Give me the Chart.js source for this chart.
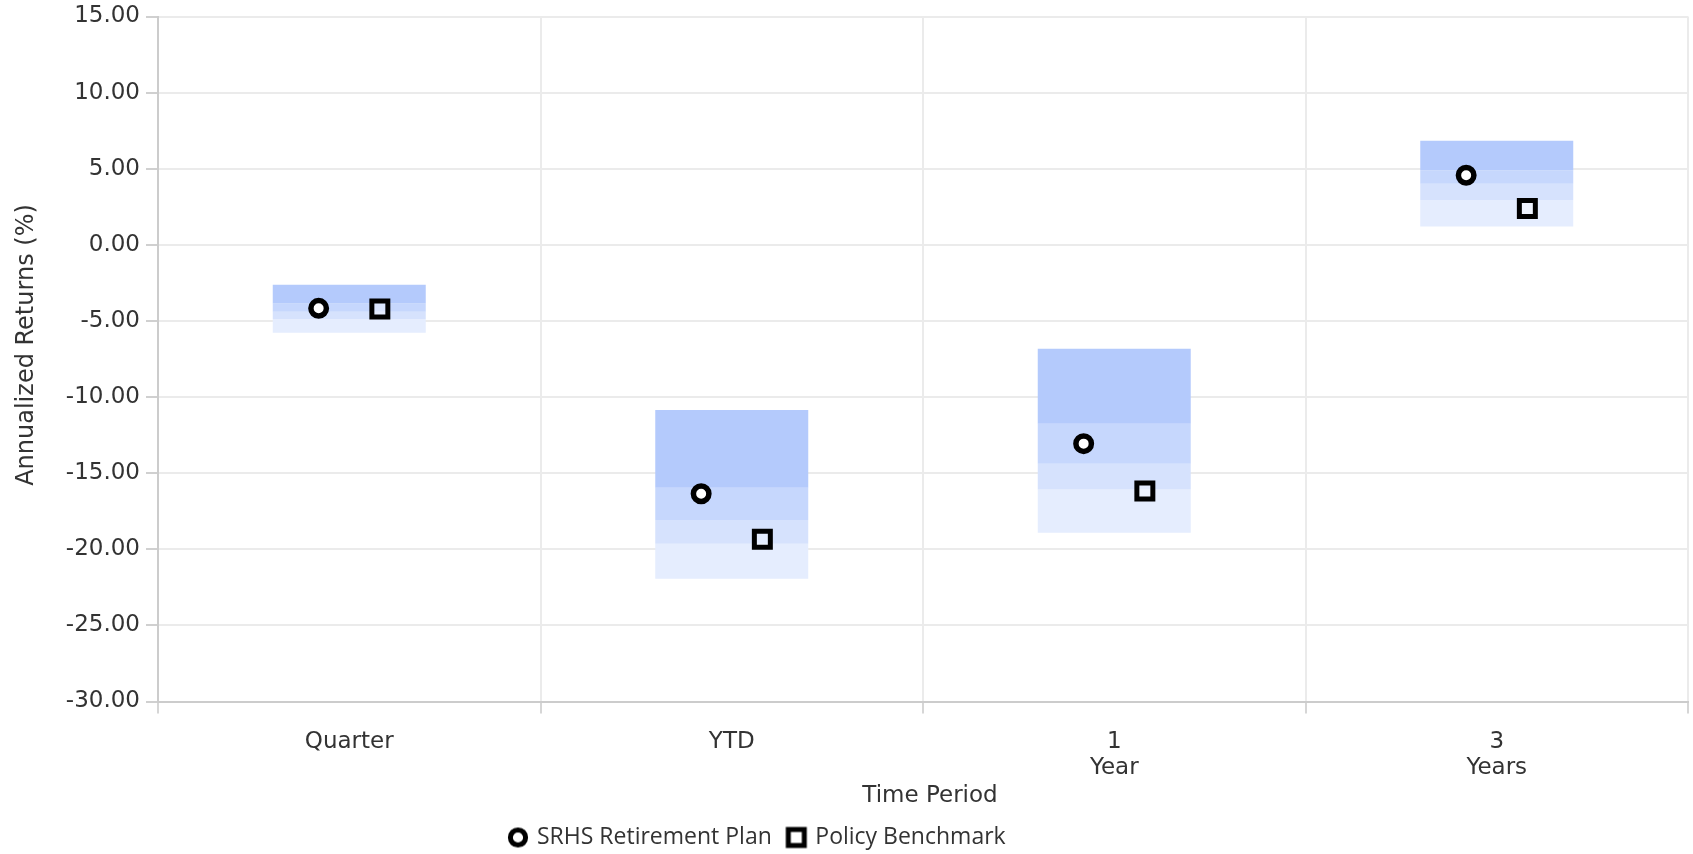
<!DOCTYPE html>
<html>
<head>
<meta charset="utf-8">
<title>Annualized Returns by Time Period</title>
<script src="https://cdn.jsdelivr.net/npm/chart.js@4.4.1/dist/chart.umd.min.js"></script>
<style>
  html, body { margin: 0; padding: 0; background: #ffffff; }
  #wrap { width: 1693px; height: 854px; }
</style>
</head>
<body>
<div id="wrap"><canvas id="chart" width="1693" height="854"></canvas></div>
<script>
// Time periods on the x axis
const periods = ['Quarter', 'YTD', ['1', 'Year'], ['3', 'Years']];
// Y axis tick values (%)
const yTickValues = [-30, -25, -20, -15, -10, -5, 0, 5, 10, 15];

// Universe percentile breakpoints (%) per period
const pct5  = [-5.77, -21.93, -18.91, 1.20];
const pct25 = [-4.89, -19.63, -16.08, 2.95];
const pct50 = [-4.39, -18.07, -14.38, 4.02];
const pct75 = [-3.86, -15.95, -11.75, 4.90];
const pct95 = [-2.63, -10.85, -6.82, 6.83];

// Plan and benchmark returns (%)
const planReturns = [-4.17, -16.35, -13.06, 4.57];
const benchmarkReturns = [-4.22, -19.34, -16.17, 2.38];

const TEXT = '#333333';
const PLOT_BOTTOM = 701.5;   // y pixel of the x axis line
const PLOT_TOP = 16.5;       // y pixel of the top gridline

// floating bar segments between two percentile rows
const band = (lo, hi) => lo.map((v, i) => [v, hi[i]]);
// place a marker slightly left/right of the category centre
const shifted = (vals, dx) => vals.map((v, i) => ({ x: i + dx, y: v }));

function bandDataset(label, lo, hi, color) {
  return {
    type: 'bar', label, data: band(lo, hi), backgroundColor: color,
    borderWidth: 0, grouped: false, barPercentage: 0.4, categoryPercentage: 1.0,
    order: 2
  };
}

// small legend icons
function legendIcon(kind) {
  const c = document.createElement('canvas');
  c.width = 26; c.height = 26;
  const g = c.getContext('2d');
  g.strokeStyle = '#000'; g.fillStyle = '#fff';
  g.lineWidth = 5;
  if (kind === 'circle') {
    g.beginPath(); g.arc(13, 13, 7.6, 0, Math.PI * 2); g.fill(); g.stroke();
  } else {
    g.fillRect(5, 5, 16, 16); g.strokeRect(5, 5, 16, 16);
  }
  return c;
}
const iconCircle = legendIcon('circle');
const iconSquare = legendIcon('square');

// offsets an axis title by (dx, dy) pixels
function nudgeTitle(scale, dx, dy) {
  if (!scale || scale._titleNudged) return;
  const drawTitle = scale.drawTitle;
  scale.drawTitle = function () {
    this.ctx.save();
    this.ctx.translate(dx, dy);
    drawTitle.call(this);
    this.ctx.restore();
  };
  scale._titleNudged = true;
}

// pins the legend block and places the axis titles
const layoutTweaks = {
  id: 'layoutTweaks',
  afterLayout(chart) {
    const lg = chart.legend;
    if (lg) {
      const w = lg.right - lg.left, h = lg.bottom - lg.top;
      lg.left = 493.5;
      lg.right = lg.left + w;
      lg.top = 809;
      lg.bottom = lg.top + h;
    }
    nudgeTitle(chart.scales.y, 0, -14);
    nudgeTitle(chart.scales.x, 7, 0);
  }
};

new Chart(document.getElementById('chart'), {
  type: 'bar',
  data: {
    labels: periods,
    datasets: [
      {
        type: 'scatter', label: 'SRHS Retirement Plan', xAxisID: 'x2',
        data: shifted(planReturns, -0.08),
        pointStyle: 'circle', pointRadius: 7.75, pointHoverRadius: 7.75,
        pointBorderWidth: 5.5, pointBorderColor: '#000000', pointBackgroundColor: '#ffffff',
        borderColor: '#000000', backgroundColor: '#ffffff', showLine: false, order: 0
      },
      {
        type: 'scatter', label: 'Policy Benchmark', xAxisID: 'x2',
        data: shifted(benchmarkReturns, 0.08),
        pointStyle: 'rect', pointRadius: 11.3, pointHoverRadius: 11.3,
        pointBorderWidth: 5, pointBorderColor: '#000000', pointBackgroundColor: 'rgba(255,255,255,0.35)',
        borderColor: '#000000', backgroundColor: 'rgba(255,255,255,0.35)', showLine: false, order: 0
      },
      bandDataset('75th-95th', pct75, pct95, 'rgb(180,202,252)'),
      bandDataset('50th-75th', pct50, pct75, 'rgb(198,215,253)'),
      bandDataset('25th-50th', pct25, pct50, 'rgb(214,226,253)'),
      bandDataset('5th-25th', pct5, pct25, 'rgb(229,237,254)')
    ]
  },
  options: {
    responsive: false,
    animation: false,
    layout: { autoPadding: false, padding: { left: 0, right: 5, top: 0, bottom: 0 } },
    scales: {
      x: {
        type: 'category',
        offset: true,
        afterFit: s => {
          s.paddingLeft = 0; s.paddingRight = 0;
          const legendH = s.chart.legend ? s.chart.legend.height : 0;
          s.height = s.chart.height - legendH - PLOT_BOTTOM;
        },
        grid: { display: true, offset: true, color: '#ebebeb', lineWidth: 2, tickLength: 12, tickColor: '#d6d6d6', tickWidth: 2 },
        border: { display: true, color: '#cccccc', width: 2 },
        ticks: { color: TEXT, font: { family: 'DejaVu Sans', size: 23, lineHeight: 1.15 }, padding: 15, maxRotation: 0, autoSkip: false },
        title: { display: true, text: 'Time Period', color: TEXT, font: { family: 'DejaVu Sans', size: 23 }, padding: { top: 0, bottom: -5.5 } }
      },
      x2: { type: 'linear', min: -0.5, max: 3.5, offset: false, display: false },
      y: {
        min: -30, max: 15,
        afterBuildTicks: s => { s.ticks = yTickValues.map(v => ({ value: v })); },
        afterFit: s => { s.width = 158; s.paddingTop = PLOT_TOP; s.paddingBottom = 0; },
        grid: { color: '#ebebeb', lineWidth: 2, tickLength: 12, tickColor: '#d0d0d0', tickWidth: 2 },
        border: { display: true, color: '#cccccc', width: 2 },
        ticks: { color: TEXT, font: { family: 'DejaVu Sans', size: 23 }, padding: 6, callback: v => Number(v).toFixed(2) },
        title: { display: true, text: 'Annualized Returns (%)', color: TEXT, font: { family: 'DejaVu Sans', size: 24 }, padding: { top: 12, bottom: 4 } }
      }
    },
    plugins: {
      legend: {
        position: 'bottom',
        align: 'start',
        labels: {
          color: TEXT,
          font: { family: 'Open Sans', size: 23 },
          usePointStyle: true,
          boxWidth: 15, boxHeight: 20,
          padding: 17,
          generateLabels: chart => chart.data.datasets.slice(0, 2).map((ds, i) => ({
            text: ds.label, datasetIndex: i, pointStyle: i === 0 ? iconCircle : iconSquare,
            fillStyle: '#fff', strokeStyle: '#000', lineWidth: 0, hidden: false, fontColor: TEXT
          }))
        }
      },
      tooltip: { enabled: false }
    }
  },
  plugins: [layoutTweaks]
});
</script>
</body>
</html>
